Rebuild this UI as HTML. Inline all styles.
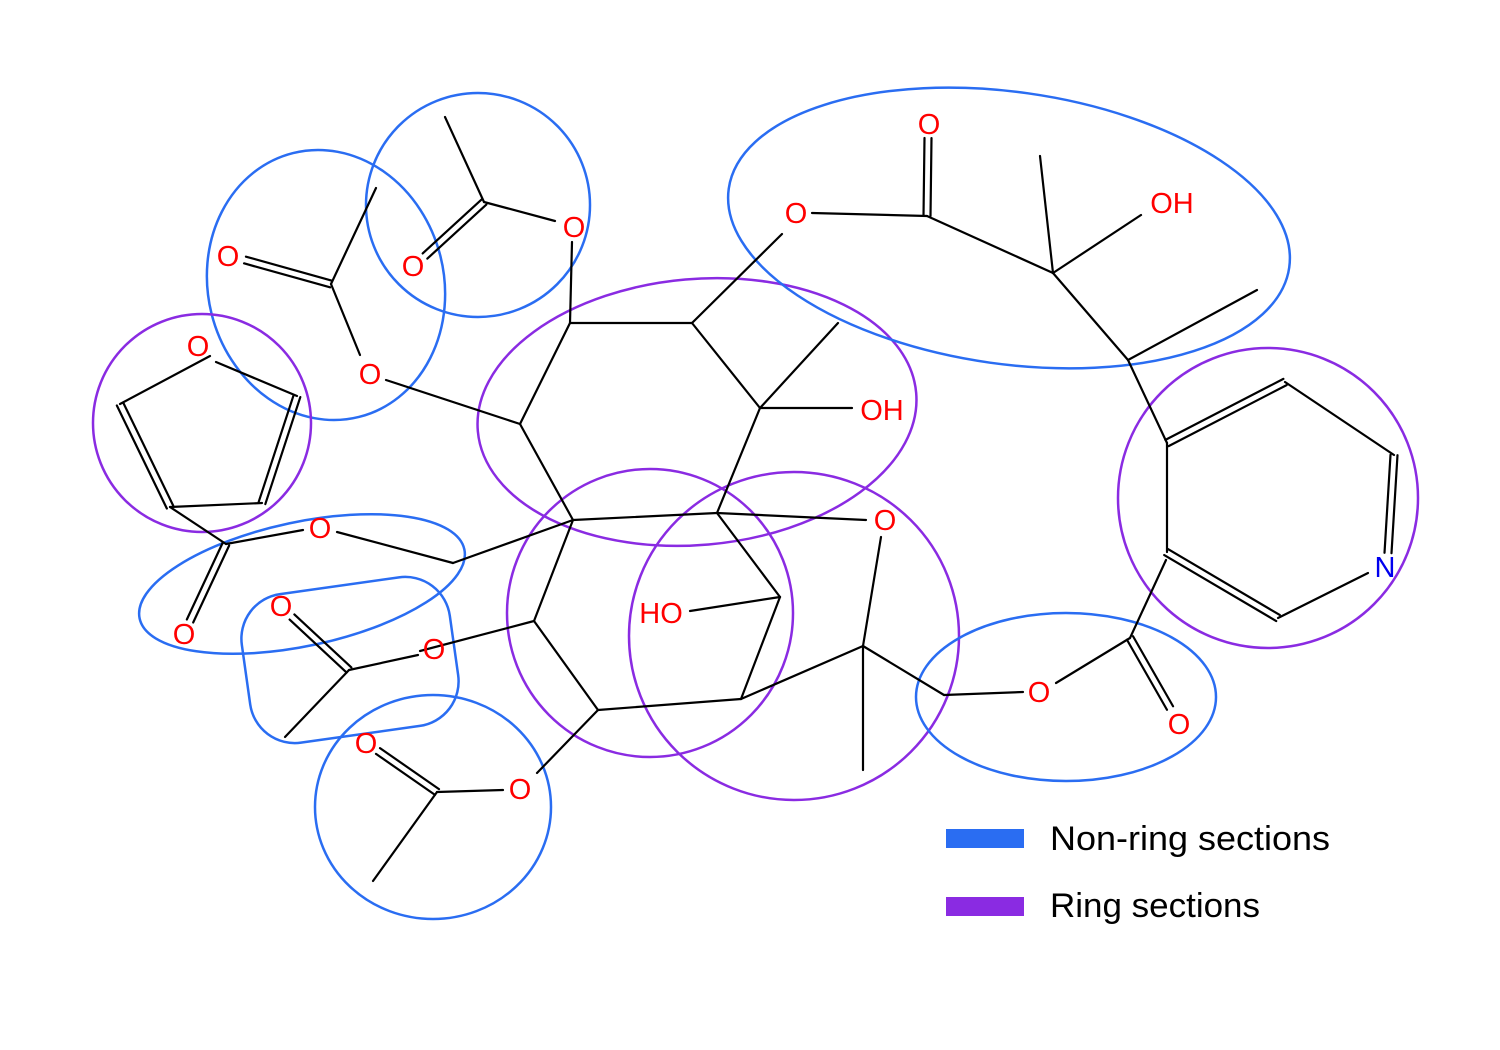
<!DOCTYPE html>
<html><head><meta charset="utf-8"><style>
html,body{margin:0;padding:0;background:#fff;}
svg{display:block;}
text{font-family:"Liberation Sans","DejaVu Sans",sans-serif;}
</style></head><body>
<svg id="mol" width="1500" height="1050" viewBox="0 0 1500 1050" xmlns="http://www.w3.org/2000/svg">
<g id="regions" fill="none" stroke-width="2.5">
 <circle cx="478" cy="205" r="112" stroke="#2a6df2"/>
 <ellipse cx="326" cy="285" rx="118" ry="136" transform="rotate(-14 326 285)" stroke="#2a6df2"/>
 <circle cx="202" cy="423" r="109" stroke="#8a2be2"/>
 <ellipse cx="302" cy="584" rx="166" ry="62" transform="rotate(-12 302 584)" stroke="#2a6df2"/>
 <rect x="245" y="585" width="210" height="150" rx="45" transform="rotate(-8 350 660)" stroke="#2a6df2"/>
 <ellipse cx="433" cy="807" rx="118" ry="112" stroke="#2a6df2"/>
 <ellipse cx="697" cy="412" rx="220" ry="133" transform="rotate(-5 697 412)" stroke="#8a2be2"/>
 <ellipse cx="650" cy="613" rx="143" ry="144" stroke="#8a2be2"/>
 <ellipse cx="794" cy="636" rx="165" ry="164" stroke="#8a2be2"/>
 <ellipse cx="1009" cy="228" rx="283" ry="136" transform="rotate(8 1009 228)" stroke="#2a6df2"/>
 <circle cx="1268" cy="498" r="150" stroke="#8a2be2"/>
 <ellipse cx="1066" cy="697" rx="150" ry="84" stroke="#2a6df2"/>
</g>
<g id="bonds" stroke="#000" stroke-width="2.2" stroke-linecap="round"></g>
<g id="labels" font-size="29" text-anchor="middle"></g>
<g>
 <rect x="946" y="829" width="78" height="19" fill="#2a6df2"/>
 <text x="1050" y="850" font-size="34" textLength="280" lengthAdjust="spacingAndGlyphs" fill="#000">Non-ring sections</text>
 <rect x="946" y="897" width="78" height="19" fill="#8a2be2"/>
 <text x="1050" y="917" font-size="34" textLength="210" lengthAdjust="spacingAndGlyphs" fill="#000">Ring sections</text>
</g>
</svg>
<script>
const singleBonds = [
 [445,117,484,202],[484,202,555,221],[572,242,570,323],
 [376,188,331,284],[331,284,360,355],[386,380,520,424],
 [210,356,120,404],[170,507,262,503],[216,362,297,396],
 [170,507,226,544],[226,544,303,530],[337,532,453,563],[453,563,573,520],
 [570,323,692,323],[692,323,760,408],[760,408,717,513],[717,513,573,520],[573,520,520,424],[520,424,570,323],
 [692,323,782,234],[812,213,927,216],[927,216,1053,273],[1053,273,1040,156],[1053,273,1141,215],
 [1053,273,1128,360],[1128,360,1257,290],[1128,360,1167,443],
 [760,408,838,323],[760,408,852,408],
 [717,513,866,520],[717,513,780,597],[780,597,690,611],[780,597,741,699],[741,699,598,710],[598,710,534,621],[534,621,573,520],
 [534,621,420,651],[418,655,349,670],[349,670,285,737],
 [598,710,537,773],[503,790,437,792],[437,792,373,881],
 [741,699,863,646],[863,646,881,537],[863,646,863,770],[863,646,944,695],[944,695,1023,692],[1056,683,1130,638],[1130,638,1166,560],
 [1167,443,1167,552],[1285,382,1394,455],[1368,573,1278,618]
];
const doubleBonds = [
 [484,202,425,256],[331,284,245,260],[120,404,170,507],[262,503,297,396],
 [226,544,190,621],[927,216,928,138],[349,670,292,617],[437,792,378,751],
 [1130,638,1170,708],[1167,443,1285,382],[1394,455,1388,553],[1278,618,1166,552]
];
const atomLabels = [
 ["O",574,237,"red"],["O",413,276,"red"],["O",228,266,"red"],["O",370,384,"red"],
 ["O",198,356,"red"],["O",320,538,"red"],["O",184,644,"red"],["O",281,616,"red"],
 ["O",434,659,"red"],["O",366,753,"red"],["O",520,799,"red"],["HO",661,623,"red"],
 ["OH",882,420,"red"],["O",885,530,"red"],["O",796,223,"red"],["O",929,134,"red"],
 ["OH",1172,213,"red"],["O",1039,702,"red"],["O",1179,734,"red"],["N",1385,577,"#0000ee"]
];
const NS="http://www.w3.org/2000/svg";
const bg=document.getElementById('bonds');
function line(x1,y1,x2,y2){
 const l=document.createElementNS(NS,'line');
 l.setAttribute('x1',x1);l.setAttribute('y1',y1);l.setAttribute('x2',x2);l.setAttribute('y2',y2);
 
 
 bg.appendChild(l);
}
singleBonds.forEach(b=>line(b[0],b[1],b[2],b[3]));
doubleBonds.forEach(b=>{
 const dx=b[2]-b[0],dy=b[3]-b[1],len=Math.hypot(dx,dy),nx=-dy/len*3.5,ny=dx/len*3.5;
 line(b[0]+nx,b[1]+ny,b[2]+nx,b[3]+ny);
 line(b[0]-nx,b[1]-ny,b[2]-nx,b[3]-ny);
});
const lg=document.getElementById('labels');
atomLabels.forEach(a=>{
 const t=document.createElementNS(NS,'text');
 t.setAttribute('x',a[1]);t.setAttribute('y',a[2]);t.setAttribute('fill',a[3]);
 
 
 t.textContent=a[0];
 lg.appendChild(t);
});
</script>
</body></html>
